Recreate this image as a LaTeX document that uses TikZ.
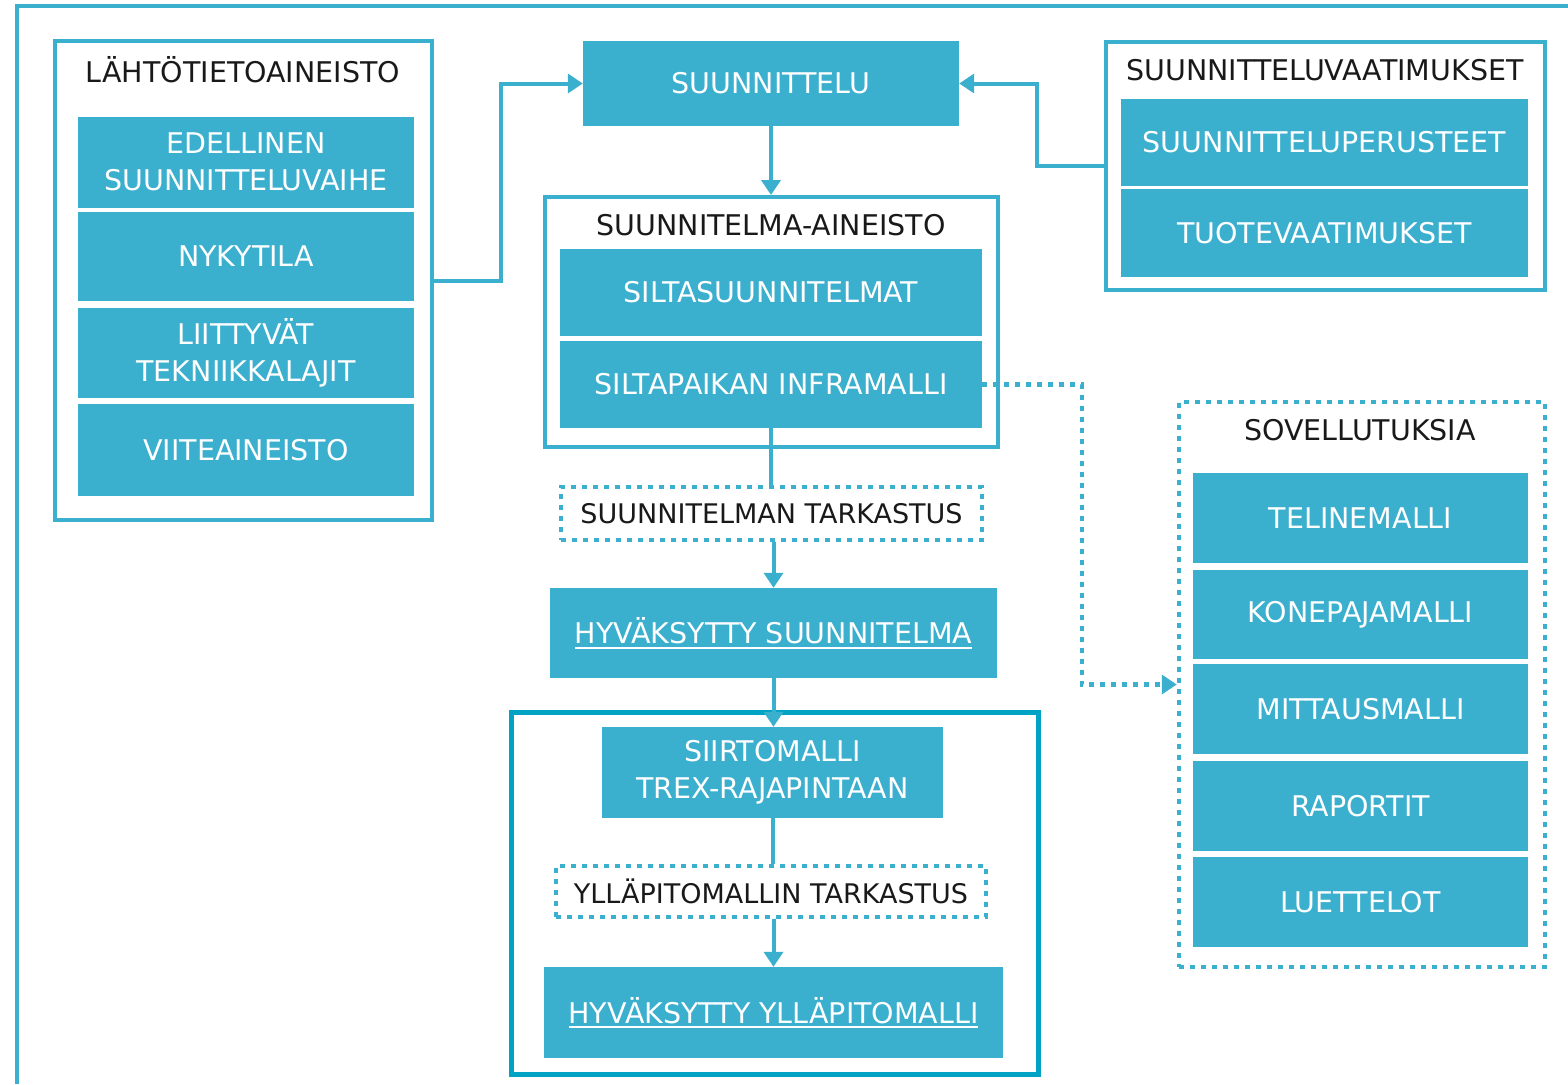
\documentclass[tikz,border=0pt]{standalone}
\usepackage{fontspec}
\setmainfont{DejaVu Sans}
\usetikzlibrary{arrows.meta}
\definecolor{boxblue}{RGB}{59,175,206}
\definecolor{darkblue}{RGB}{0,163,196}
\definecolor{titlegray}{RGB}{25,25,25}
\newcommand{\ultext}[1]{\setbox0\hbox{#1}\rlap{\rule[-5pt]{\wd0}{2pt}}\box0}

\begin{document}
\begin{tikzpicture}[x=1pt,y=-1pt,
	  font=\fontsize{28.5}{37}\selectfont,
	  box/.style={fill=boxblue,text=white,align=center,inner sep=0pt},
	  frame/.style={draw=boxblue,line width=4pt,inner sep=0pt},
	  dotbox/.style={draw=boxblue,line width=4.5pt,dash pattern=on 5pt off 6pt,inner sep=0pt},
	  title/.style={text=titlegray},
	  check/.style={dotbox,title,font=\fontsize{27}{33}\selectfont},
	  link/.style={draw=boxblue,line width=4pt},
	  tip/.style={-{Triangle[length=15pt,width=19pt]}}]
	  \useasboundingbox (0,0) rectangle (1568,1084);
	  \draw [boxblue,line width=4pt] (1568,6) -- (17,6) -- (17,1084);
	  % Frames
	  \node [frame,minimum width=377pt,minimum height=479pt] (lahto) at (243.5,280.5) {};
	  \node [frame,minimum width=439pt,minimum height=248pt] (vaatimukset) at (1325.5,166) {};
	  \node [frame,minimum width=453pt,minimum height=250pt] (aineisto) at (771.5,322) {};
	  \node [frame,draw=darkblue,line width=5pt,minimum width=527pt,minimum height=362pt] (yllapito) at (774.5,893) {};
	  \node [dotbox,minimum width=366pt,minimum height=565pt] (sovellus) at (1362,684.5) {};
	  % Frame titles
	  \node [title] (lahtotitle) at (243,70) {LÄHTÖTIETOAINEISTO};
	  \node [title] (vaattitle) at (1325,70) {SUUNNITTELUVAATIMUKSET};
	  \node [title] (aineistotitle) at (771,225) {SUUNNITELMA-AINEISTO};
	  \node [title] (sovellustitle) at (1360,430) {SOVELLUTUKSIA};
	  % Left column
	  \node [box,minimum width=336pt,minimum height=91pt] (edellinen) at (246,162) {EDELLINEN\\SUUNNITTELUVAIHE};
	  \node [box,minimum width=336pt,minimum height=89pt] (nykytila) at (246,256.5) {NYKYTILA};
	  \node [box,minimum width=336pt,minimum height=90pt] (liittyvat) at (246,353) {LIITTYVÄT\\TEKNIIKKALAJIT};
	  \node [box,minimum width=336pt,minimum height=92pt] (viite) at (246,450) {VIITEAINEISTO};
	  % Right column
	  \node [box,minimum width=407pt,minimum height=87pt] (perusteet) at (1324.5,142.5) {SUUNNITTELUPERUSTEET};
	  \node [box,minimum width=407pt,minimum height=88pt] (tuote) at (1324.5,233) {TUOTEVAATIMUKSET};
	  \node [box,minimum width=335pt,minimum height=90pt] (telinemalli) at (1360.5,518) {TELINEMALLI};
	  \node [box,minimum width=335pt,minimum height=89pt] (konepaja) at (1360.5,614.5) {KONEPAJAMALLI};
	  \node [box,minimum width=335pt,minimum height=90pt] (mittaus) at (1360.5,709) {MITTAUSMALLI};
	  \node [box,minimum width=335pt,minimum height=90pt] (raportit) at (1360.5,806) {RAPORTIT};
	  \node [box,minimum width=335pt,minimum height=90pt] (luettelot) at (1360.5,902) {LUETTELOT};
	  % Middle column
	  \node [box,minimum width=376pt,minimum height=85pt] (suunnittelu) at (771,83.5) {SUUNNITTELU};
	  \node [box,minimum width=422pt,minimum height=87pt] (silta) at (771,292.5) {SILTASUUNNITELMAT};
	  \node [box,minimum width=422pt,minimum height=87pt] (siltapaikka) at (771,384.5) {SILTAPAIKAN\ INFRAMALLI};
	  \node [check,minimum width=421pt,minimum height=53pt] (tarkastus) at (771.5,513.5) {SUUNNITELMAN TARKASTUS};
	  \node [box,minimum width=447pt,minimum height=90pt] (hyvaksytty) at (773.5,633) {\ultext{HYVÄKSYTTY SUUNNITELMA}};
	  \node [box,minimum width=341pt,minimum height=91pt] (siirto) at (772.5,772.5) {SIIRTOMALLI\\TREX-RAJAPINTAAN};
	  \node [check,minimum width=430pt,minimum height=51pt] (ytarkastus) at (771,891.5) {YLLÄPITOMALLIN\ TARKASTUS};
	  \node [box,minimum width=459pt,minimum height=91pt] (ymalli) at (773.5,1012.5) {\ultext{HYVÄKSYTTY YLLÄPITOMALLI}};
	  % Connectors
	  \draw [link,tip] (lahto.east) -- ++(67,0) |- (suunnittelu.west);
	  \draw [link,tip] (vaatimukset.west) -- ++(-67,0) |- (suunnittelu.east);
	  \draw [link,tip] (suunnittelu.south) -- (suunnittelu.south |- aineisto.north);
	  \draw [link] (siltapaikka.south) -- (siltapaikka.south |- tarkastus.north);
	  \draw [link,tip] (hyvaksytty.north |- tarkastus.south) -- (hyvaksytty.north);
	  \draw [link,tip] (hyvaksytty.south) -- (hyvaksytty.south |- siirto.north);
	  \draw [link] (siirto.south) -- (siirto.south |- ytarkastus.north);
	  \draw [link,tip] (ymalli.north |- ytarkastus.south) -- (ymalli.north);
	  \draw [link,line width=4.5pt,dash pattern=on 5pt off 6pt,tip] (siltapaikka.east) -- ++(100,0) |- (sovellus.west);
\end{tikzpicture}
\end{document}
